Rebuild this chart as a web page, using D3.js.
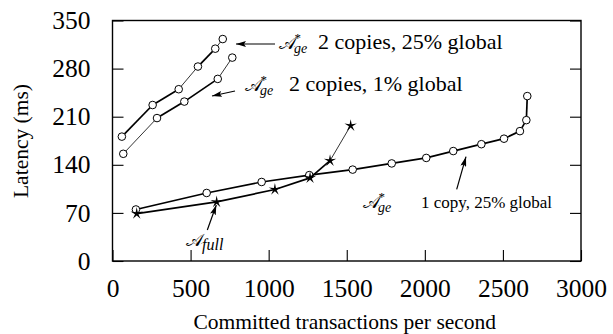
<!DOCTYPE html>
<html>
<head>
<meta charset="utf-8">
<script src="https://cdn.jsdelivr.net/npm/d3@7"></script>
<style>
  body { margin: 0; background: #fff; }
</style>
</head>
<body>
<svg id="chart" width="613" height="334"></svg>
<script>
// Axis ticks
const xTicks = [0, 500, 1000, 1500, 2000, 2500, 3000];
const yTicks = [0, 70, 140, 210, 280, 350];

// Throughput (tx/s) vs latency (ms) for each configuration
const geTwoCopies25 = [[60, 181], [257, 227], [424, 250], [547, 283], [658, 309], [706, 323]];
const geTwoCopies1 = [[69, 156], [285, 208], [460, 232], [674, 265], [767, 296]];
const geOneCopy25 = [[150, 75], [603, 99], [955, 115], [1260, 125], [1538, 133], [1788, 142],
  [2009, 150], [2182, 160], [2362, 170], [2507, 178], [2609, 189], [2650, 205], [2656, 240]];
const full = [[155, 69], [667, 86], [1040, 104], [1265, 121], [1393, 146], [1525, 197]];

// Per-segment stroke weights (1 = heavy, 0 = light)
const weights = {
  geTwoCopies25: [1, 1, 0, 1, 0],
  geTwoCopies1: [0, 1, 1, 0],
  geOneCopy25: [1, 1, 1, 1, 1, 1, 1, 1, 1, 1, 1, 1],
  full: [1, 1, 1, 1, 0]
};

const SERIF = "Times New Roman, Liberation Serif, serif";
const svg = d3.select("#chart");
const plotLeft = 112.5, plotRight = 581, plotTop = 20.5, plotBottom = 261;

const x = d3.scaleLinear().domain([0, 3000]).range([plotLeft, plotRight]);
const y = d3.scaleLinear().domain([0, 350]).range([plotBottom, plotTop]);

function label(px, py, str, size, italic) {
  return svg.append("text")
    .attr("x", px).attr("y", py)
    .attr("font-family", SERIF).attr("font-size", size)
    .attr("font-style", italic ? "italic" : "normal")
    .attr("fill", "#000")
    .text(str);
}

// Axes with inward ticks
const gx = svg.append("g").attr("transform", `translate(0,${plotBottom})`)
  .call(d3.axisBottom(x).tickValues(xTicks).tickSize(-11).tickPadding(18).tickFormat(d3.format("d")));
const gy = svg.append("g").attr("transform", `translate(${plotLeft},0)`)
  .call(d3.axisLeft(y).tickValues(yTicks).tickSize(-11).tickPadding(22).tickFormat(d3.format("d")));
const gr = svg.append("g").attr("transform", `translate(${plotRight},0)`)
  .call(d3.axisRight(y).tickValues(yTicks).tickSize(-11).tickFormat(""));

[gx, gy, gr].forEach(g => {
  g.attr("font-family", SERIF).attr("font-size", 25.5);
  g.select(".domain").remove();
  g.selectAll(".tick line").attr("stroke", "#000").attr("stroke-width", 1.1);
  g.selectAll(".tick text").attr("font-family", SERIF).attr("font-size", 25.5).attr("fill", "#000");
});

svg.append("rect")
  .attr("x", plotLeft).attr("y", plotTop)
  .attr("width", plotRight - plotLeft).attr("height", plotBottom - plotTop)
  .attr("fill", "none").attr("stroke", "#000").attr("stroke-width", 1.4);

// Axis titles
label((plotLeft + plotRight) / 2 - 2, 329, "Committed transactions per second", 21.5)
  .attr("text-anchor", "middle");
label(0, 0, "Latency (ms)", 21.5)
  .attr("x", null).attr("y", null)
  .attr("transform", "translate(28,141) rotate(-90)")
  .attr("text-anchor", "middle");

// Series lines, drawn segment by segment
function drawSeries(data, w) {
  const g = svg.append("g");
  for (let i = 0; i < data.length - 1; i++) {
    g.append("line")
      .attr("x1", x(data[i][0])).attr("y1", y(data[i][1]))
      .attr("x2", x(data[i + 1][0])).attr("y2", y(data[i + 1][1]))
      .attr("stroke", "#000")
      .attr("stroke-width", w[i] ? 1.7 : 0.8);
  }
  return g;
}

function drawCircles(g, data) {
  g.selectAll("circle").data(data).join("circle")
    .attr("cx", d => x(d[0])).attr("cy", d => y(d[1]))
    .attr("r", 3.8)
    .attr("fill", "#fff").attr("stroke", "#000").attr("stroke-width", 1);
}

// Thin five-pointed star marker
const starPath = (() => {
  const pts = [];
  for (let k = 0; k < 10; k++) {
    const r = k % 2 === 0 ? 6.5 : 1.8;
    const a = -Math.PI / 2 + k * Math.PI / 5;
    pts.push([r * Math.cos(a), r * Math.sin(a)]);
  }
  return "M" + pts.map(p => p.join(",")).join("L") + "Z";
})();

function drawStars(g, data) {
  g.selectAll("path.star").data(data).join("path")
    .attr("class", "star")
    .attr("d", starPath)
    .attr("transform", d => `translate(${x(d[0])},${y(d[1])})`)
    .attr("fill", "#000");
}

const sOne = drawSeries(geOneCopy25, weights.geOneCopy25);
const sFull = drawSeries(full, weights.full);
const sTwo25 = drawSeries(geTwoCopies25, weights.geTwoCopies25);
const sTwo1 = drawSeries(geTwoCopies1, weights.geTwoCopies1);
drawCircles(sOne, geOneCopy25);
drawStars(sFull, full);
drawCircles(sTwo25, geTwoCopies25);
drawCircles(sTwo1, geTwoCopies1);

// Annotations
svg.append("defs").append("marker")
  .attr("id", "head").attr("viewBox", "0 0 10 6")
  .attr("refX", 10).attr("refY", 3)
  .attr("markerWidth", 10).attr("markerHeight", 6)
  .attr("markerUnits", "userSpaceOnUse")
  .attr("orient", "auto")
  .append("path").attr("d", "M0,0L10,3L0,6L2,3Z").attr("fill", "#000");

function arrow(x1, y1, x2, y2) {
  svg.append("line")
    .attr("x1", x1).attr("y1", y1).attr("x2", x2).attr("y2", y2)
    .attr("stroke", "#000").attr("stroke-width", 1.2)
    .attr("marker-end", "url(#head)");
}

// Script A followed by its sub/superscripts
function geLabel(px, py, rest, restX, restSize) {
  label(px, py, "\u{1D49C}", 18);
  label(px + 15.5, py - 7.5, "*", 13);
  label(px + 15, py + 3.5, "ge", 14, true);
  label(restX, py, rest, restSize);
}

geLabel(279, 49, "2 copies, 25% global", 318, 22);
arrow(275, 44, 236, 44);
geLabel(245, 91, "2 copies, 1% global", 289, 22);
arrow(235, 91, 212, 96);
geLabel(363, 208, "1 copy, 25% global", 421, 17);
arrow(456.7, 189.3, 466, 156.7);

label(186, 246, "\u{1D49C}", 18);
label(202, 250, "full", 16, true);
arrow(207.3, 230, 216.3, 205);
</script>
</body>
</html>
